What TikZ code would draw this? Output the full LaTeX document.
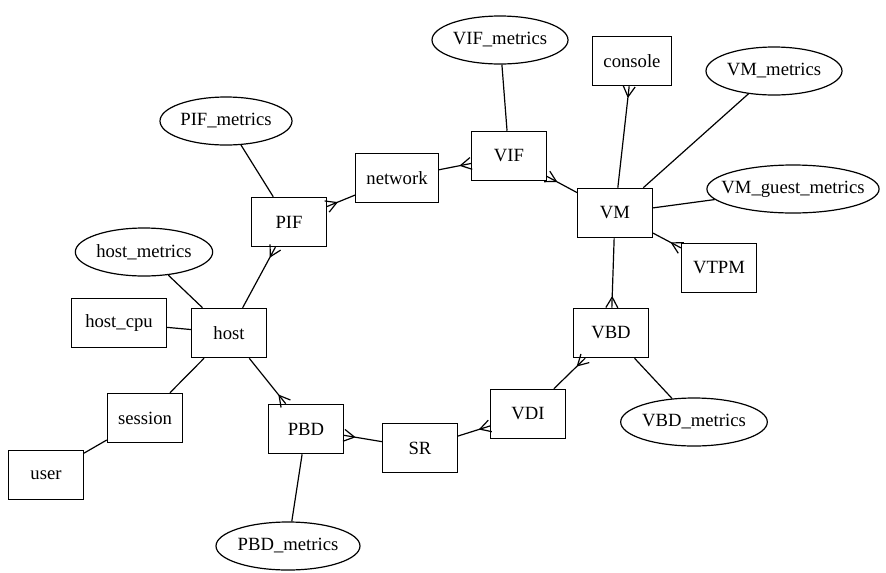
\documentclass[tikz,border=0pt]{standalone}
\usepackage{fontspec}
\setmainfont{Liberation Serif}
\usepackage{tikz}
\usetikzlibrary{shapes.geometric}
\usetikzlibrary{arrows.meta}

% crow's foot: three prongs spreading out to the node
\pgfdeclarearrow{
    name=crowfoot,
    parameters={\the\pgfarrowlength,\the\pgfarrowwidth},
    setup code={
        \pgfarrowssettipend{0pt}
        \pgfarrowssetbackend{-\pgfarrowlength}
        \pgfarrowssetlineend{0pt}
        \pgfarrowssetvisualbackend{-\pgfarrowlength}
        \pgfarrowssavethe\pgfarrowlength
        \pgfarrowssavethe\pgfarrowwidth
    },
    drawing code={
        \pgfsetdash{}{0pt}
        \pgfpathmoveto{\pgfpoint{-\pgfarrowlength}{0pt}}
        \pgfpathlineto{\pgfpoint{0pt}{0.5\pgfarrowwidth}}
        \pgfpathmoveto{\pgfpoint{-\pgfarrowlength}{0pt}}
        \pgfpathlineto{\pgfpoint{0pt}{-0.5\pgfarrowwidth}}
        \pgfusepathqstroke
    },
    defaults={length=8pt, width=9pt}
}

\tikzset{
    cls/.style={draw, rectangle, line width=0.9pt,
        minimum width=56pt, minimum height=37pt, inner xsep=8pt},
    attr/.style={draw, ellipse, line width=0.9pt,
        minimum height=36pt, inner sep=0pt},
    rel/.style={line width=0.9pt},
    many/.style={rel, -crowfoot}
}

\begin{document}
\begin{tikzpicture}[x=0.75pt,y=-0.75pt,font=\fontsize{14}{16}\selectfont]
                \useasboundingbox (0,0) rectangle (886,572);
                % ellipses
                \node[attr, minimum width=102pt] (VIFm) at (500,40) {VIF\_metrics};
                \node[attr, minimum width=102pt] (VMm) at (774,71) {VM\_metrics};
                \node[attr, minimum width=99pt] (PIFm) at (226,121) {PIF\_metrics};
                \node[attr, minimum width=127pt, inner xsep=-8pt] (VMgm) at (793,189) {VM\_guest\_metrics};
                \node[attr, minimum width=103pt] (hostm) at (144,252) {host\_metrics};
                \node[attr, minimum width=108pt] (VBDm) at (694,422) {VBD\_metrics};
                \node[attr, minimum width=108pt] (PBDm) at (288,546) {PBD\_metrics};
                % boxes
                \node[cls] (console) at (632,61) {console};
                \node[cls] (network) at (397,178) {network};
                \node[cls] (VIF) at (509,156) {VIF};
                \node[cls] (VM) at (615,213) {VM};
                \node[cls] (PIF) at (289,222) {PIF};
                \node[cls] (VTPM) at (719,268) {VTPM};
                \node[cls, minimum width=71pt] (hostcpu) at (119,323) {host\_cpu};
                \node[cls] (host) at (229,333) {host};
                \node[cls] (VBD) at (611,333) {VBD};
                \node[cls] (session) at (145,418) {session};
                \node[cls] (VDI) at (528,414) {VDI};
                \node[cls] (PBD) at (306,429) {PBD};
                \node[cls] (SR) at (420,448) {SR};
                \node[cls] (user) at (46,475) {user};
                % one to many
                \draw[many] (network) -- (PIF);
                \draw[many] (network) -- (VIF);
                \draw[many] (VM) -- (VIF);
                \draw[many] (VM) -- (console);
                \draw[many] (VM) -- (VTPM);
                \draw[many] (VM) -- (VBD);
                \draw[many] (VDI) -- (VBD);
                \draw[many] (SR) -- (VDI);
                \draw[many] (SR) -- (PBD);
                \draw[many] (host) -- (PBD);
                \draw[many] (host) -- (PIF);
                % plain
                \draw[rel] (PIFm) -- (PIF);
                \draw[rel] (VIFm) -- (VIF);
                \draw[rel] (VMm) -- (VM);
                \draw[rel] (VMgm) -- (VM);
                \draw[rel] (hostm) -- (host);
                \draw[rel] (hostcpu) -- (host);
                \draw[rel] (host) -- (session);
                \draw[rel] (session) -- (user);
                \draw[rel] (PBD) -- (PBDm);
                \draw[rel] (VBD) -- (VBDm);
            \end{tikzpicture}
\end{document}
